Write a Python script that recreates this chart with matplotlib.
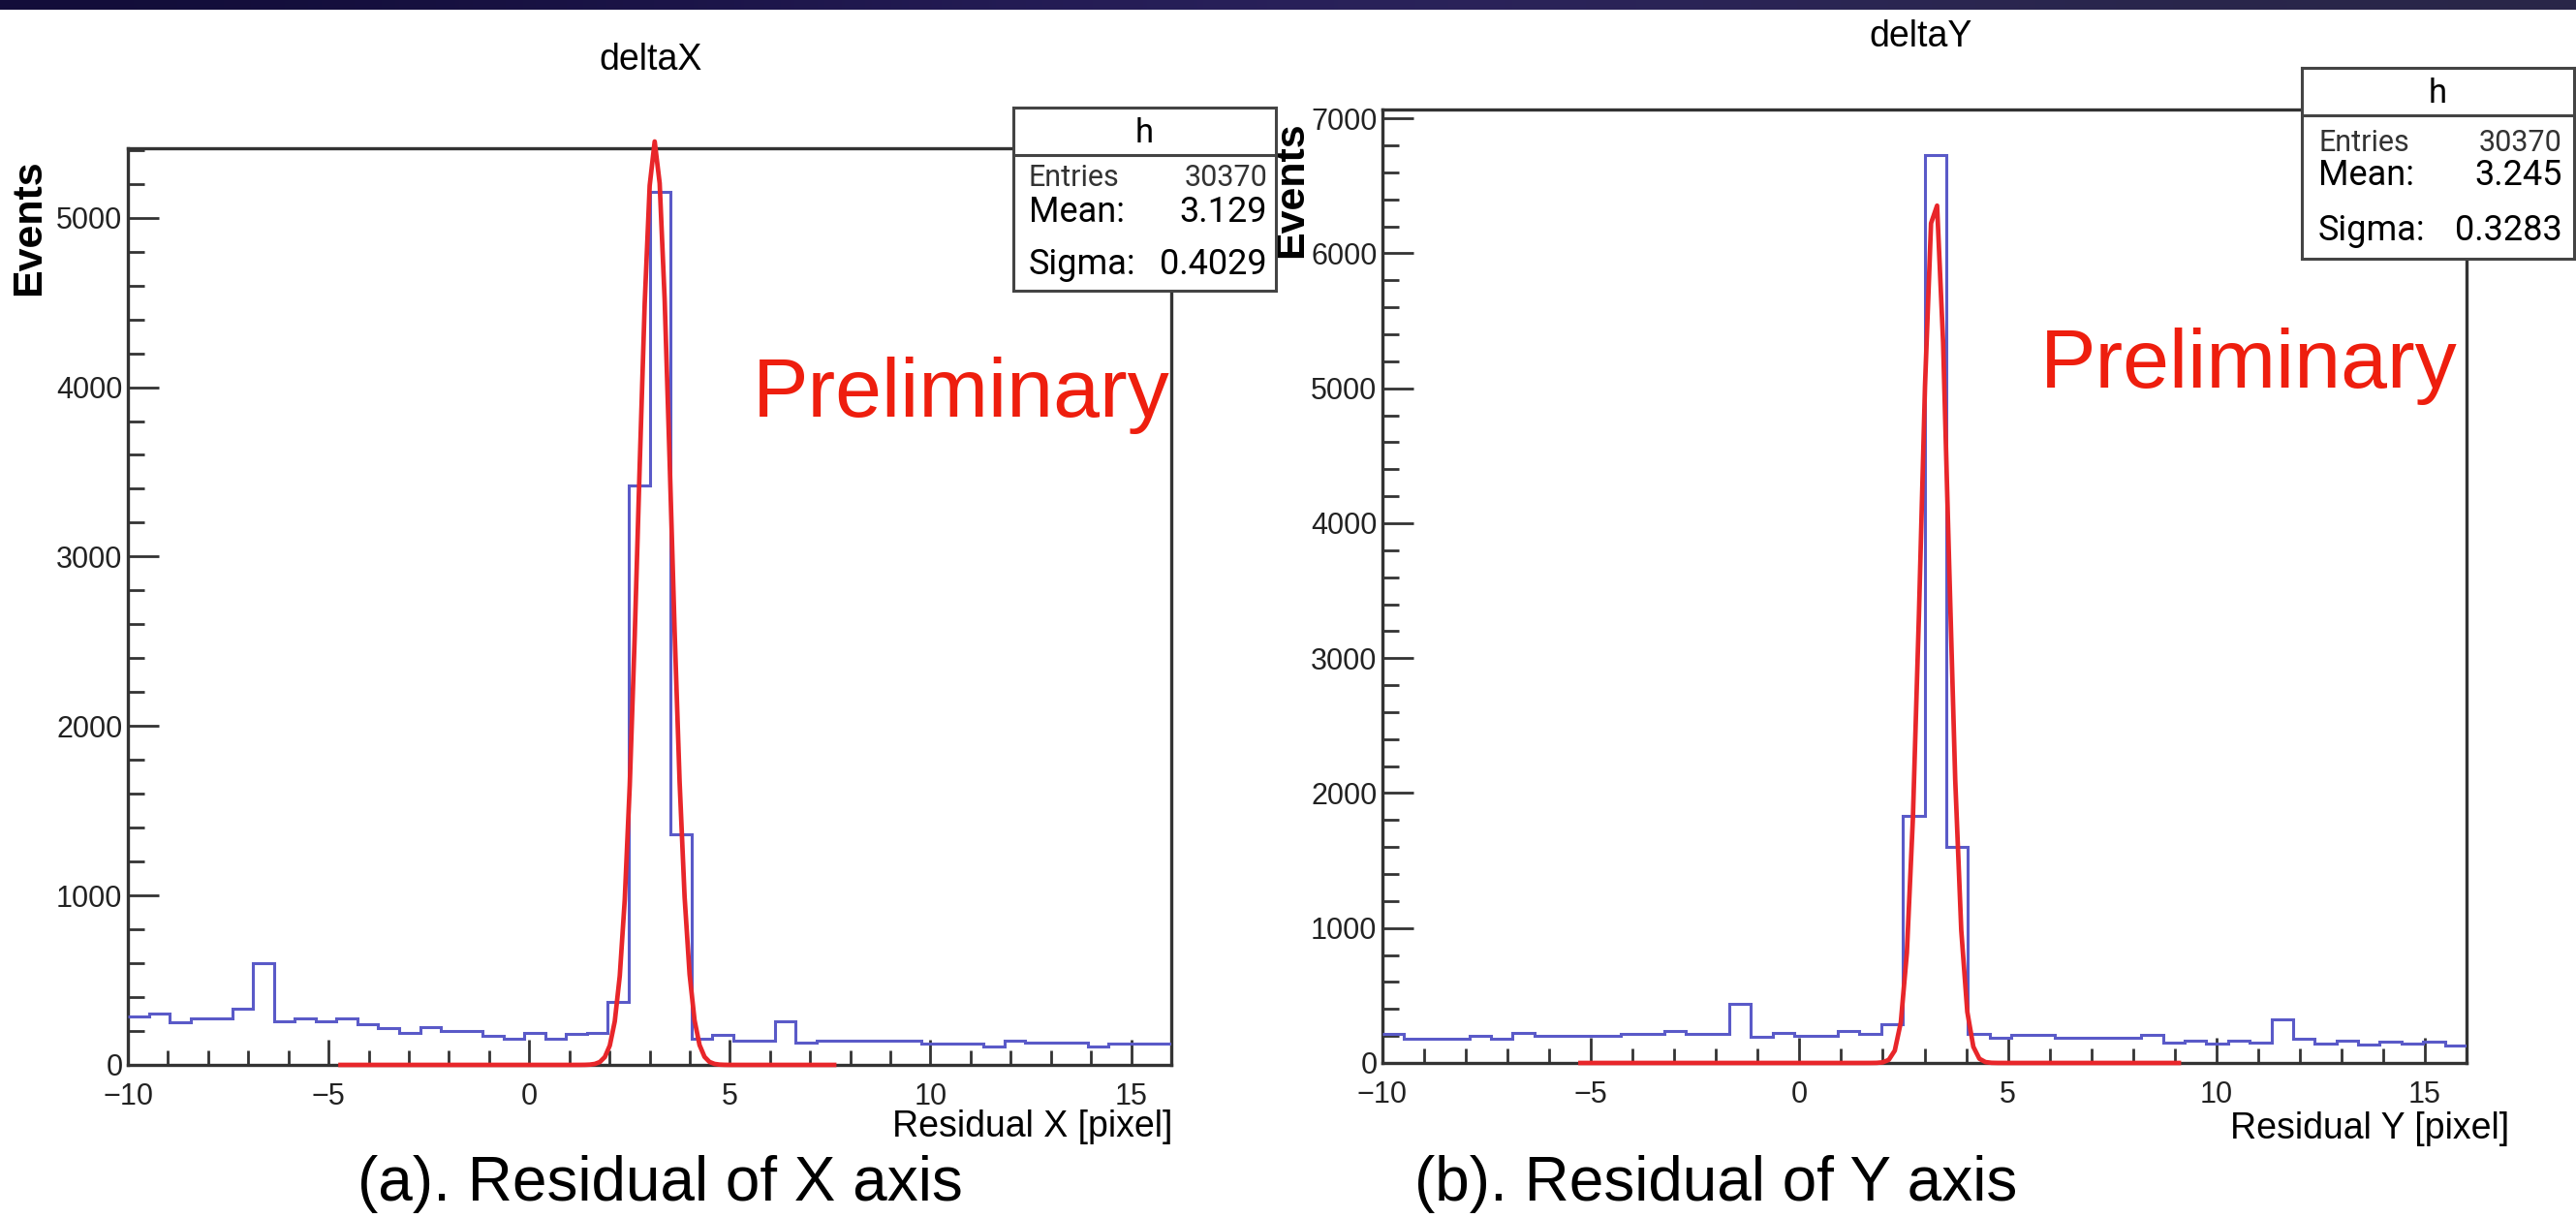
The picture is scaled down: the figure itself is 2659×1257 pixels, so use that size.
import numpy as np
import matplotlib.pyplot as plt
from matplotlib.ticker import MultipleLocator

W, H = 2659, 1257
DPI = 100

# histogram range / binning (50 bins from -10 to 16)
x_lo, x_hi, n_bins = -10, 16, 50

counts_x = [286, 305, 251, 276, 276, 333, 600, 257, 276, 257,
            276, 238, 219, 190, 222, 200, 200, 171, 156, 190,
            156, 181, 190, 371, 3420, 5150, 1360, 156, 175, 143,
            143, 257, 133, 143, 143, 143, 143, 143, 128, 128,
            128, 109, 143, 133, 133, 133, 109, 124, 124, 124]
counts_y = [214, 179, 179, 179, 202, 179, 226, 202, 202, 202,
            202, 219, 219, 238, 219, 219, 440, 195, 221, 202,
            202, 238, 219, 290, 1830, 6730, 1600, 219, 186, 210,
            210, 186, 186, 186, 186, 210, 148, 167, 143, 167,
            148, 320, 179, 143, 162, 136, 155, 143, 155, 131]

# gaussian fits: amplitude, mean, sigma, fit range
fit_x = (5450, 3.129, 0.4029, -4.7, 7.6)
fit_y = (6450, 3.245, 0.3283, -5.25, 9.1)

entries = ["30370", "30370"]
means = ["3.129", "3.245"]
sigmas = ["0.4029", "0.3283"]
titles = ["deltaX", "deltaY"]
xlabels = ["Residual X [pixel]", "Residual Y [pixel]"]
captions = ["(a). Residual of X axis", "(b). Residual of Y axis"]
ymax = [5410, 7066]

BLUE = "#5a5ac8"
RED = "#e8262a"
FONT = "Liberation Sans"


def fx(px):
    return px / W


def fy(py):
    return 1 - py / H


def rect(l, t, r, b):
    return [fx(l), fy(b), fx(r) - fx(l), fy(t) - fy(b)]


fig = plt.figure(figsize=(W / DPI, H / DPI), dpi=DPI)
fig.patch.set_facecolor("white")

# dark strip at the top of the slide
strip = fig.add_axes(rect(0, 0, W, 10))
grad = np.array([[[0.07, 0.05, 0.22], [0.18, 0.14, 0.40], [0.16, 0.15, 0.28]]])
strip.imshow(grad, aspect="auto", interpolation="bicubic", extent=[0, 1, 0, 1])
strip.axis("off")

panels = [
    dict(box=(132, 153, 1209, 1099), stat=(1046, 111, 1317, 300, 160),
         counts=counts_x, fit=fit_x, title_xy=(672, 62), ev_xy=(30, 235),
         xl_xy=(1210, 1163), cap_xy=(681, 1222), pre_xy=(992, 430),
         txt=(1062, 1308, 184, 219, 273)),
    dict(box=(1427, 113, 2546, 1097), stat=(2376, 70, 2657, 267, 119),
         counts=counts_y, fit=fit_y, title_xy=(1983, 38), ev_xy=(1333, 196),
         xl_xy=(2590, 1165), cap_xy=(1771, 1222), pre_xy=(2321, 400),
         txt=(2393, 2645, 147, 181, 238)),
]

edges = np.linspace(x_lo, x_hi, n_bins + 1)

for i, p in enumerate(panels):
    l, t, r, b = p["box"]
    ax = fig.add_axes(rect(l, t, r, b))
    ax.stairs(p["counts"], edges, baseline=None, color=BLUE, lw=2.2, zorder=3)

    amp, mu, sig, f_lo, f_hi = p["fit"]
    xf = np.linspace(f_lo, f_hi, 100)
    ax.plot(xf, amp * np.exp(-0.5 * ((xf - mu) / sig) ** 2), color=RED,
            lw=3.4, zorder=4, clip_on=False)

    ax.set_xlim(x_lo, x_hi)
    ax.set_ylim(0, ymax[i])
    ax.xaxis.set_major_locator(MultipleLocator(5))
    ax.xaxis.set_minor_locator(MultipleLocator(1))
    ax.yaxis.set_major_locator(MultipleLocator(1000))
    ax.yaxis.set_minor_locator(MultipleLocator(200))
    ax.tick_params(axis="x", which="major", direction="in", length=19,
                   width=2, color="#333333", pad=13, labelsize=22)
    ax.tick_params(axis="x", which="minor", direction="in", length=11,
                   width=2, color="#333333")
    ax.tick_params(axis="y", which="major", direction="in", length=23,
                   width=2, color="#333333", pad=4, labelsize=22)
    ax.tick_params(axis="y", which="minor", direction="in", length=12,
                   width=2, color="#333333")
    for lab in ax.get_xticklabels() + ax.get_yticklabels():
        lab.set_fontfamily(FONT)
        lab.set_color("#222222")
    for sp in ax.spines.values():
        sp.set_linewidth(2.4)
        sp.set_color("#333333")

    ax.text(fx(p["pre_xy"][0]), fy(p["pre_xy"][1]), "Preliminary",
            transform=fig.transFigure, ha="center", va="baseline",
            fontsize=62, color="#ee1e0e", family=FONT)

    fig.text(fx(p["title_xy"][0]), fy(p["title_xy"][1]), titles[i],
             ha="center", va="center", fontsize=27, family=FONT)
    fig.text(fx(p["ev_xy"][0]), fy(p["ev_xy"][1]), "Events", rotation=90,
             ha="center", va="center", fontsize=31, fontweight="bold",
             family=FONT)
    fig.text(fx(p["xl_xy"][0]), fy(p["xl_xy"][1]), xlabels[i],
             ha="right", va="center", fontsize=27, family=FONT)
    fig.text(fx(p["cap_xy"][0]), fy(p["cap_xy"][1]), captions[i],
             ha="center", va="center", fontsize=46, family=FONT)

    # stats box
    sl, st, sr, sb, sh = p["stat"]
    sax = fig.add_axes(rect(sl, st, sr, sb), zorder=5)
    sax.set_facecolor("white")
    sax.set_xticks([])
    sax.set_yticks([])
    sax.set_xlim(0, 1)
    sax.set_ylim(0, 1)
    for sp in sax.spines.values():
        sp.set_linewidth(2.2)
        sp.set_color("#444444")
    sax.axhline(1 - (sh - st) / (sb - st), color="#444444", lw=2.2)
    tl, tr, ye, ym, ys = p["txt"]
    fig.text(fx((sl + sr) / 2), fy((st + sh) / 2 + 2), "h", ha="center",
             va="center", fontsize=25, family="Roboto", zorder=6)
    fig.text(fx(tl), fy(ye), "Entries", ha="left", va="center", fontsize=22,
             family="Roboto", color="#333333", zorder=6)
    fig.text(fx(tr), fy(ye), entries[i], ha="right", va="center", fontsize=22,
             family="Roboto", color="#333333", zorder=6)
    fig.text(fx(tl), fy(ym), "Mean:", ha="left", va="center", fontsize=26,
             family="Roboto", zorder=6)
    fig.text(fx(tr), fy(ym), means[i], ha="right", va="center", fontsize=26,
             family="Roboto", zorder=6)
    fig.text(fx(tl), fy(ys), "Sigma:", ha="left", va="center", fontsize=26,
             family="Roboto", zorder=6)
    fig.text(fx(tr), fy(ys), sigmas[i], ha="right", va="center", fontsize=26,
             family="Roboto", zorder=6)

fig.savefig("out.png", dpi=DPI)
